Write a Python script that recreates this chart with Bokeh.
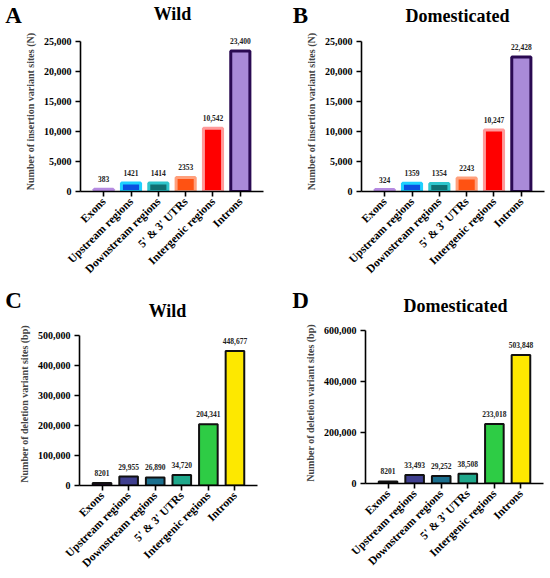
from math import pi
from bokeh.plotting import figure
from bokeh.models import ColumnDataSource, Range1d, FactorRange, NumeralTickFormatter, Label, FixedTicker
from bokeh.layouts import column, row
from bokeh.embed import file_html
from bokeh.resources import INLINE
from bokeh.core.properties import value

categories = ["Exons", "Upstream regions", "Downstream regions", "5' & 3' UTRs", "Intergenic regions", "Introns"]

ins_wild = [383, 1421, 1414, 2353, 10542, 23400]
ins_dom = [324, 1359, 1354, 2243, 10247, 22428]
del_wild = [8201, 29955, 26890, 34720, 204341, 448677]
del_dom = [8201, 33493, 29252, 38508, 233018, 503848]

ins_fill = ["#7a3fb5", "#0b4fe0", "#0f6f72", "#ff5212", "#ff0000", "#a98ad8"]
ins_line = ["#b58ae0", "#1ed0ff", "#2ec6cc", "#ffa07c", "#ff9a9a", "#2a0a52"]
del_fill = ["#2a0a3a", "#3f3f8f", "#1b6f8e", "#1fa88b", "#2ecc45", "#fde800"]
del_line = ["#111111"] * 6

FONT = "Liberation Serif"
W = 275


def fmt(v):
    return f"{v:,}" if v >= 10000 else str(v)


def header(hh, letter, lx, ly, title, tx, ty):
    h = figure(width=W, height=hh, x_range=Range1d(0, W), y_range=Range1d(0, hh),
               output_backend="svg", toolbar_location=None, min_border=0,
               x_axis_location=None, y_axis_location=None)
    h.frame_align = False
    h.title.visible = False
    h.outline_line_color = None
    h.xgrid.grid_line_color = None
    h.ygrid.grid_line_color = None
    h.add_layout(Label(x=lx, y=hh - ly, text=letter, text_font=FONT, text_font_style="bold",
                       text_font_size="23px", text_align="center", text_baseline="middle", text_color="black"))
    h.add_layout(Label(x=tx, y=hh - ty, text=title, text_font=FONT, text_font_style="bold",
                       text_font_size="18px", text_align="center", text_baseline="middle", text_color="black"))
    return h


def chart(ch, vals, fills, lines, lw, ymax, ystep, ylabel, left, right, top, bottom, yend):
    p = figure(width=W, height=ch, x_range=FactorRange(factors=categories, range_padding=0.116),
               y_range=Range1d(0, yend), output_backend="svg", toolbar_location=None,
               min_border_left=left, min_border_right=right, min_border_top=top, min_border_bottom=bottom)
    p.frame_align = False
    p.title.visible = False
    src = ColumnDataSource(dict(cat=categories, val=vals, fill=fills, line=lines,
                                lab=[fmt(v) for v in vals]))
    p.vbar(x="cat", top="val", width=0.7, fill_color="fill", line_color="line", line_width=lw, source=src)
    p.text(x="cat", y="val", text="lab", source=src, text_align="center", text_baseline="bottom",
           y_offset=-7, text_font=value(FONT), text_font_style="bold", text_font_size="7.5px", text_color="#222222")
    p.outline_line_color = None
    p.xgrid.grid_line_color = None
    p.ygrid.grid_line_color = None
    for ax in (p.xaxis[0], p.yaxis[0]):
        ax.axis_line_width = 1.6
        ax.axis_line_color = "black"
        ax.major_tick_line_width = 1.6
        ax.major_tick_line_color = "black"
        ax.major_tick_out = 5
        ax.major_tick_in = 0
        ax.minor_tick_line_color = None
        ax.major_label_text_font = FONT
        ax.major_label_text_font_style = "bold"
        ax.major_label_text_color = "black"
    p.yaxis.bounds = (0, ymax)
    p.yaxis.ticker = FixedTicker(ticks=list(range(0, ymax + 1, ystep)))
    p.yaxis.formatter = NumeralTickFormatter(format="0,0")
    p.yaxis.major_label_text_font_size = "10px"
    p.yaxis.major_label_standoff = 4
    p.yaxis.axis_label = ylabel
    p.yaxis.axis_label_text_font = FONT
    p.yaxis.axis_label_text_font_style = "bold"
    p.yaxis.axis_label_text_font_size = "10px"
    p.yaxis.axis_label_standoff = 5
    p.xaxis.major_label_orientation = pi / 4
    p.xaxis.major_label_text_font_size = "11.5px"
    p.xaxis.major_label_standoff = 3
    return p


H1, C1 = 28, 258
H2, C2 = 36, 256

hA = header(H1, "A", 13, 15, "Wild", 172, 13)
cA = chart(C1, ins_wild, ins_fill, ins_line, 3, 25000, 5000, "Number of insertion variant sites (N)",
           80, 12, 3, 95, 25000 * (1 + 10 / 150))
hB = header(H1, "B", 25, 15, "Domesticated", 182, 15)
cB = chart(C1, ins_dom, ins_fill, ins_line, 3, 25000, 5000, "Number of insertion variant sites (N)",
           86, 6, 3, 95, 25000 * (1 + 10 / 150))
hC = header(H2, "C", 13, 14, "Wild", 167, 24)
cC = chart(C2, del_wild, del_fill, del_line, 2, 500000, 100000, "Number of deletion variant sites (bp)",
           79, 18, 0, 93, 500000 * (1 + 13 / 150))
hD = header(H2, "D", 25, 14, "Domesticated", 180, 19)
cD = chart(C2, del_dom, del_fill, del_line, 2, 600000, 200000, "Number of deletion variant sites (bp)",
           90, 7, 0, 95, 600000 * (1 + 8 / 153))

layout = column(row(column(hA, cA), column(hB, cB)), row(column(hC, cC), column(hD, cD)))
open("out.html", "w").write(file_html(layout, INLINE))
